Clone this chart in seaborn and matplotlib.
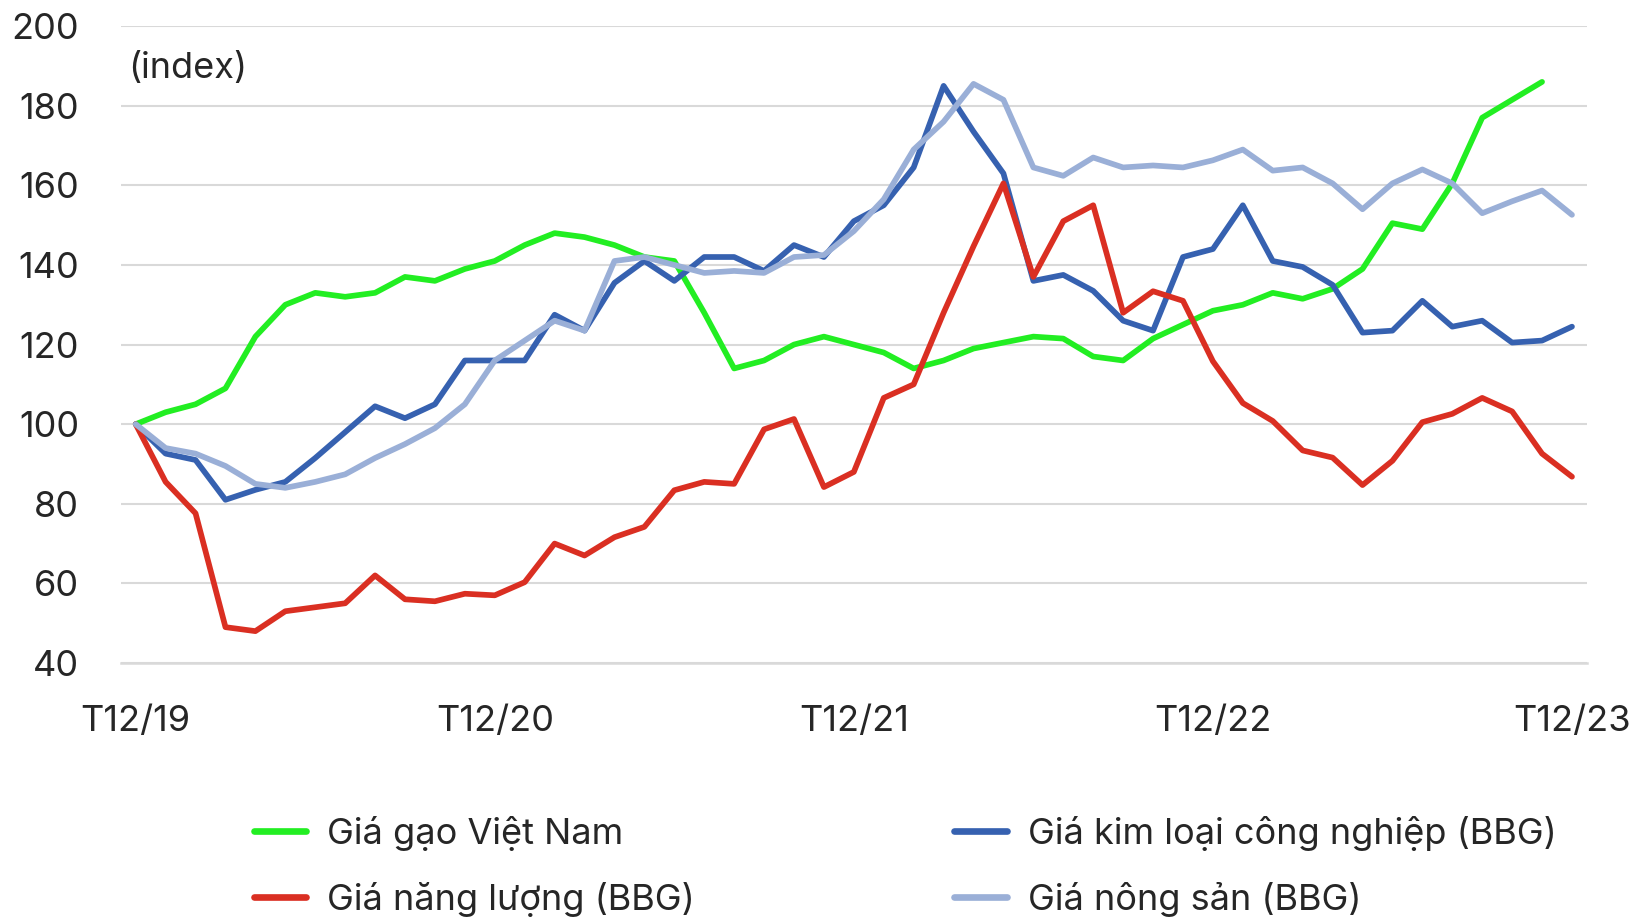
import matplotlib
matplotlib.use("Agg")
import matplotlib.pyplot as plt
import seaborn as sns
import pandas as pd
import numpy as np

# Dữ liệu theo tháng, T12/19 -> T12/23 (index, T12/19 = 100)
nhan_truc_x = ["T12/19", "T12/20", "T12/21", "T12/22", "T12/23"]

gia_gao = [100, 103, 105, 109, 122, 130, 133, 132, 133, 137, 136, 139,
           141, 145, 148, 147, 145, 142, 141, 128, 114, 116, 120, 122,
           120, 118, 114, 116, 119, 120.5, 122, 121.5, 117, 116, 121.5, 125,
           128.5, 130, 133, 131.5, 134, 139, 150.5, 149, 160.5, 177, 181.5, 186,
           np.nan]

gia_kim_loai = [100, 92.6, 91, 81, 83.5, 85.5, 91.5, 98, 104.5, 101.5, 105, 116,
                116, 116, 127.5, 123.5, 135.5, 141, 136, 142, 142, 138.5, 145, 142,
                151, 155, 164.5, 185, 173.5, 163, 136, 137.5, 133.5, 126, 123.5, 142,
                144, 155, 141, 139.5, 135, 123, 123.5, 131, 124.5, 126, 120.5, 121,
                124.5]

gia_nang_luong = [100, 85.5, 77.6, 49, 48, 53, 54, 55, 62, 56, 55.5, 57.4,
                  57, 60.3, 70, 67, 71.6, 74.2, 83.4, 85.5, 85, 98.7, 101.3, 84.2,
                  88, 106.6, 110, 128, 144.7, 160.5, 137, 151, 155, 128, 133.4, 131,
                  115.8, 105.3, 100.8, 93.4, 91.6, 84.7, 90.8, 100.5, 102.6, 106.6, 103.2, 92.6,
                  86.8]

gia_nong_san = [100, 94, 92.6, 89.5, 85, 84, 85.5, 87.4, 91.5, 95, 99, 105,
                116, 121, 126, 123.5, 141, 142, 140, 138, 138.5, 138, 142, 142.5,
                148.5, 156.5, 169, 176, 185.5, 181.5, 164.5, 162.4, 167, 164.5, 165, 164.5,
                166.3, 169, 163.7, 164.5, 160.5, 154, 160.5, 164, 160.5, 153, 156, 158.7,
                152.6]

ten_chuoi = ["Giá gạo Việt Nam", "Giá kim loại công nghiệp (BBG)",
             "Giá năng lượng (BBG)", "Giá nông sản (BBG)"]
mau = ["#22EE22", "#3661B0", "#DA2F22", "#9AAFD7"]

thang = list(range(len(gia_gao)))
df = pd.DataFrame({
    "thang": thang * 4,
    "gia": gia_gao + gia_kim_loai + gia_nang_luong + gia_nong_san,
    "chuoi": sum([[t] * len(thang) for t in ten_chuoi], []),
})

sns.set_theme(style="white")
plt.rcParams["font.family"] = ["Inter", "DejaVu Sans"]
mau_chu = "#262626"
co_chu = 26

fig, ax = plt.subplots(figsize=(16.45, 9.18), dpi=100)
fig.subplots_adjust(left=0.0734, right=0.9647, top=0.9715, bottom=0.2778)

sns.lineplot(data=df, x="thang", y="gia", hue="chuoi", hue_order=ten_chuoi,
             palette=dict(zip(ten_chuoi, mau)), linewidth=4.1, estimator=None,
             legend=False, ax=ax,
             solid_capstyle="round", solid_joinstyle="round")

ax.set_xlim(-0.5, 48.5)
ax.set_ylim(40, 200)
ax.set_yticks(range(40, 201, 20))
ax.grid(axis="y", color="#D9D9D9", linewidth=1.5)
ax.set_axisbelow(True)
for s in ["top", "right", "left"]:
    ax.spines[s].set_visible(False)
ax.spines["bottom"].set_color("#D9D9D9")
ax.spines["bottom"].set_linewidth(1.8)

# vạch chia ở ranh giới tháng, nhãn ở giữa
ax.set_xticks([-0.5, 11.5, 23.5, 35.5, 47.5])
ax.set_xticklabels([])
ax.set_xticks([0, 12, 24, 36, 48], minor=True)
ax.set_xticklabels(nhan_truc_x, minor=True)
ax.tick_params(axis="x", which="major", length=9, width=1.5, color="#D9D9D9")
ax.tick_params(axis="x", which="minor", length=0, pad=30, labelsize=co_chu, labelcolor=mau_chu)
ax.tick_params(axis="y", length=0, pad=30, labelsize=co_chu, labelcolor=mau_chu)
ax.set_xlabel("")
ax.set_ylabel("")

ax.text(0.005, 0.934, "(index)", transform=ax.transAxes, va="center", ha="left",
        fontsize=co_chu, color=mau_chu)

# chú thích 2 cột
duong = [plt.Line2D([], [], color=c, linewidth=4.8) for c in mau]
thu_tu = [0, 2, 1, 3]
fig.legend([duong[i] for i in thu_tu], [ten_chuoi[i] for i in thu_tu],
           ncol=2, loc="upper left", bbox_to_anchor=(0.1544, 0.111),
           frameon=False, fontsize=co_chu, labelcolor=mau_chu,
           handlelength=1.45, handletextpad=0.58, columnspacing=7.18,
           labelspacing=0.85, borderpad=0, borderaxespad=0)

fig.savefig("out.png", dpi=100)
